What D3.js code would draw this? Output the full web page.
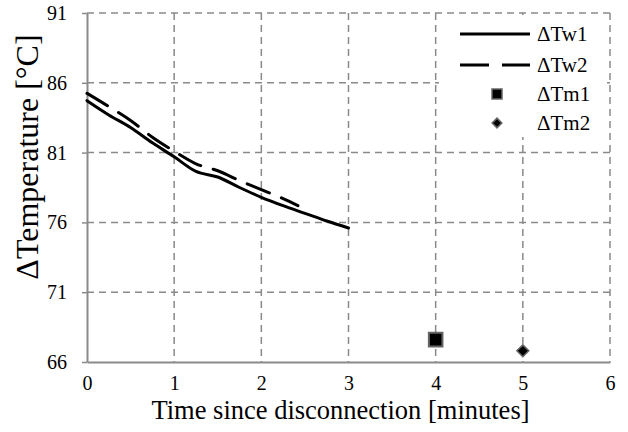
<!DOCTYPE html>
<html>
<head>
<meta charset="utf-8">
<script src="https://cdn.jsdelivr.net/npm/d3@7"></script>
</head>
<body style="margin:0">
<svg id="chart" width="628" height="432"></svg>
<script>
// data
var timeW1 = [0, 0.25, 0.5, 0.75, 1.0, 1.25, 1.5, 1.75, 2.0, 2.25, 2.5, 2.75, 3.0]
var tempW1 = [84.72, 83.7, 82.8, 81.7, 80.7, 79.65, 79.25, 78.5, 77.8, 77.2, 76.65, 76.1, 75.6]
var timeW2 = [0, 0.25, 0.5, 0.75, 1.0, 1.25, 1.5, 1.75, 2.0, 2.25, 2.42]
var tempW2 = [85.25, 84.3, 83.3, 82.1, 81.1, 80.2, 79.7, 79.0, 78.35, 77.7, 77.2]
var timeM1 = [4]
var tempM1 = [67.6]
var timeM2 = [5]
var tempM2 = [66.8]

var xTicks = [0, 1, 2, 3, 4, 5, 6]
var yTicks = [66, 71, 76, 81, 86, 91]
var legendNames = ["\u0394Tw1", "\u0394Tw2", "\u0394Tm1", "\u0394Tm2"]

var gridColor = "#8a8a8a"
var fontName = "Liberation Serif"

var svg = d3.select("#chart")

var x = d3.scaleLinear().domain([0, 6]).range([87, 610])
var y = d3.scaleLinear().domain([66, 91]).range([362, 13])

function label(sel, size){
  sel.attr("font-size", size)
    .attr("fill", "#000")
    .style("font-family", "'" + fontName + "'")
}

// grid
svg.append("g").selectAll("line")
  .data(xTicks.slice(1))
  .join("line")
  .attr("x1", d => x(d)).attr("x2", d => x(d))
  .attr("y1", y(91)).attr("y2", y(66))
  .attr("stroke", gridColor)
  .attr("stroke-width", 1.5)
  .attr("stroke-dasharray", "7,5")

svg.append("g").selectAll("line")
  .data(yTicks.slice(1))
  .join("line")
  .attr("x1", x(0)).attr("x2", x(6))
  .attr("y1", d => y(d)).attr("y2", d => y(d))
  .attr("stroke", gridColor)
  .attr("stroke-width", 1.5)
  .attr("stroke-dasharray", "7,5")

// axes
var yAxis = svg.append("g")
  .attr("transform", "translate(" + x(0) + ",0)")
  .call(d3.axisLeft(y).tickValues(yTicks).tickFormat(d3.format("d"))
    .tickSize(5).tickSizeOuter(0).tickPadding(15))
var xAxis = svg.append("g")
  .attr("transform", "translate(0," + y(66) + ")")
  .call(d3.axisBottom(x).tickValues(xTicks).tickFormat(d3.format("d"))
    .tickSize(0).tickSizeOuter(0).tickPadding(14))

yAxis.attr("font-family", null).attr("font-size", null)
xAxis.attr("font-family", null).attr("font-size", null)
svg.selectAll(".domain").attr("stroke", gridColor).attr("stroke-width", 2)
yAxis.selectAll(".tick line").attr("stroke", gridColor).attr("stroke-width", 1.5)
svg.selectAll(".tick text").call(label, 20)

// series lines
var line = d3.line()
  .x(d => x(d[0]))
  .y(d => y(d[1]))
  .curve(d3.curveMonotoneX)

svg.append("path")
  .datum(d3.zip(timeW1, tempW1))
  .attr("d", line)
  .attr("fill", "none")
  .attr("stroke", "#000")
  .attr("stroke-width", 3)
  .attr("stroke-linecap", "round")

svg.append("path")
  .datum(d3.zip(timeW2, tempW2))
  .attr("d", line)
  .attr("fill", "none")
  .attr("stroke", "#000")
  .attr("stroke-width", 3)
  .attr("stroke-linecap", "round")
  .attr("stroke-dasharray", "24,13")

// markers
var square = d3.symbol().type(d3.symbolSquare)
var diamond = d3.symbol().type(d3.symbolDiamond2)

svg.append("g").selectAll("path")
  .data(d3.zip(timeM1, tempM1))
  .join("path")
  .attr("transform", d => "translate(" + x(d[0]) + "," + y(d[1]) + ")")
  .attr("d", square.size(185))
  .attr("fill", "#000")
  .attr("stroke", "#666")
  .attr("stroke-width", 2)

svg.append("g").selectAll("path")
  .data(d3.zip(timeM2, tempM2))
  .join("path")
  .attr("transform", d => "translate(" + x(d[0]) + "," + y(d[1]) + ")")
  .attr("d", diamond.size(90))
  .attr("fill", "#000")
  .attr("stroke", "#666")
  .attr("stroke-width", 1.5)

// legend
var legend = svg.append("g")
legend.append("rect")
  .attr("x", 439).attr("y", 15)
  .attr("width", 168).attr("height", 122)
  .attr("fill", "#fff")

var rowY = [34, 65, 94, 123]
legendNames.forEach(function(name, k){
  var ly = rowY[k]
  if(k < 2){
    legend.append("line")
      .attr("x1", 460).attr("x2", 530)
      .attr("y1", ly).attr("y2", ly)
      .attr("stroke", "#000")
      .attr("stroke-width", 3)
      .attr("stroke-dasharray", k == 1 ? "29,13" : null)
  } else {
    legend.append("path")
      .attr("transform", "translate(497," + ly + ")")
      .attr("d", k == 2 ? square.size(100) : diamond.size(60))
      .attr("fill", "#000")
      .attr("stroke", "#666")
      .attr("stroke-width", 1.5)
  }
  legend.append("text")
    .attr("x", 537)
    .attr("y", ly + 7)
    .call(label, 21)
    .text(name)
})

// axis titles
svg.append("text")
  .attr("x", (x(0) + x(6)) / 2 - 8)
  .attr("y", 419)
  .attr("text-anchor", "middle")
  .call(label, 26.5)
  .text("Time since disconnection [minutes]")

svg.append("text")
  .attr("transform", "translate(38,157) rotate(-90)")
  .attr("text-anchor", "middle")
  .call(label, 32)
  .text("\u0394Temperature [\u00B0C]")
</script>
</body>
</html>
